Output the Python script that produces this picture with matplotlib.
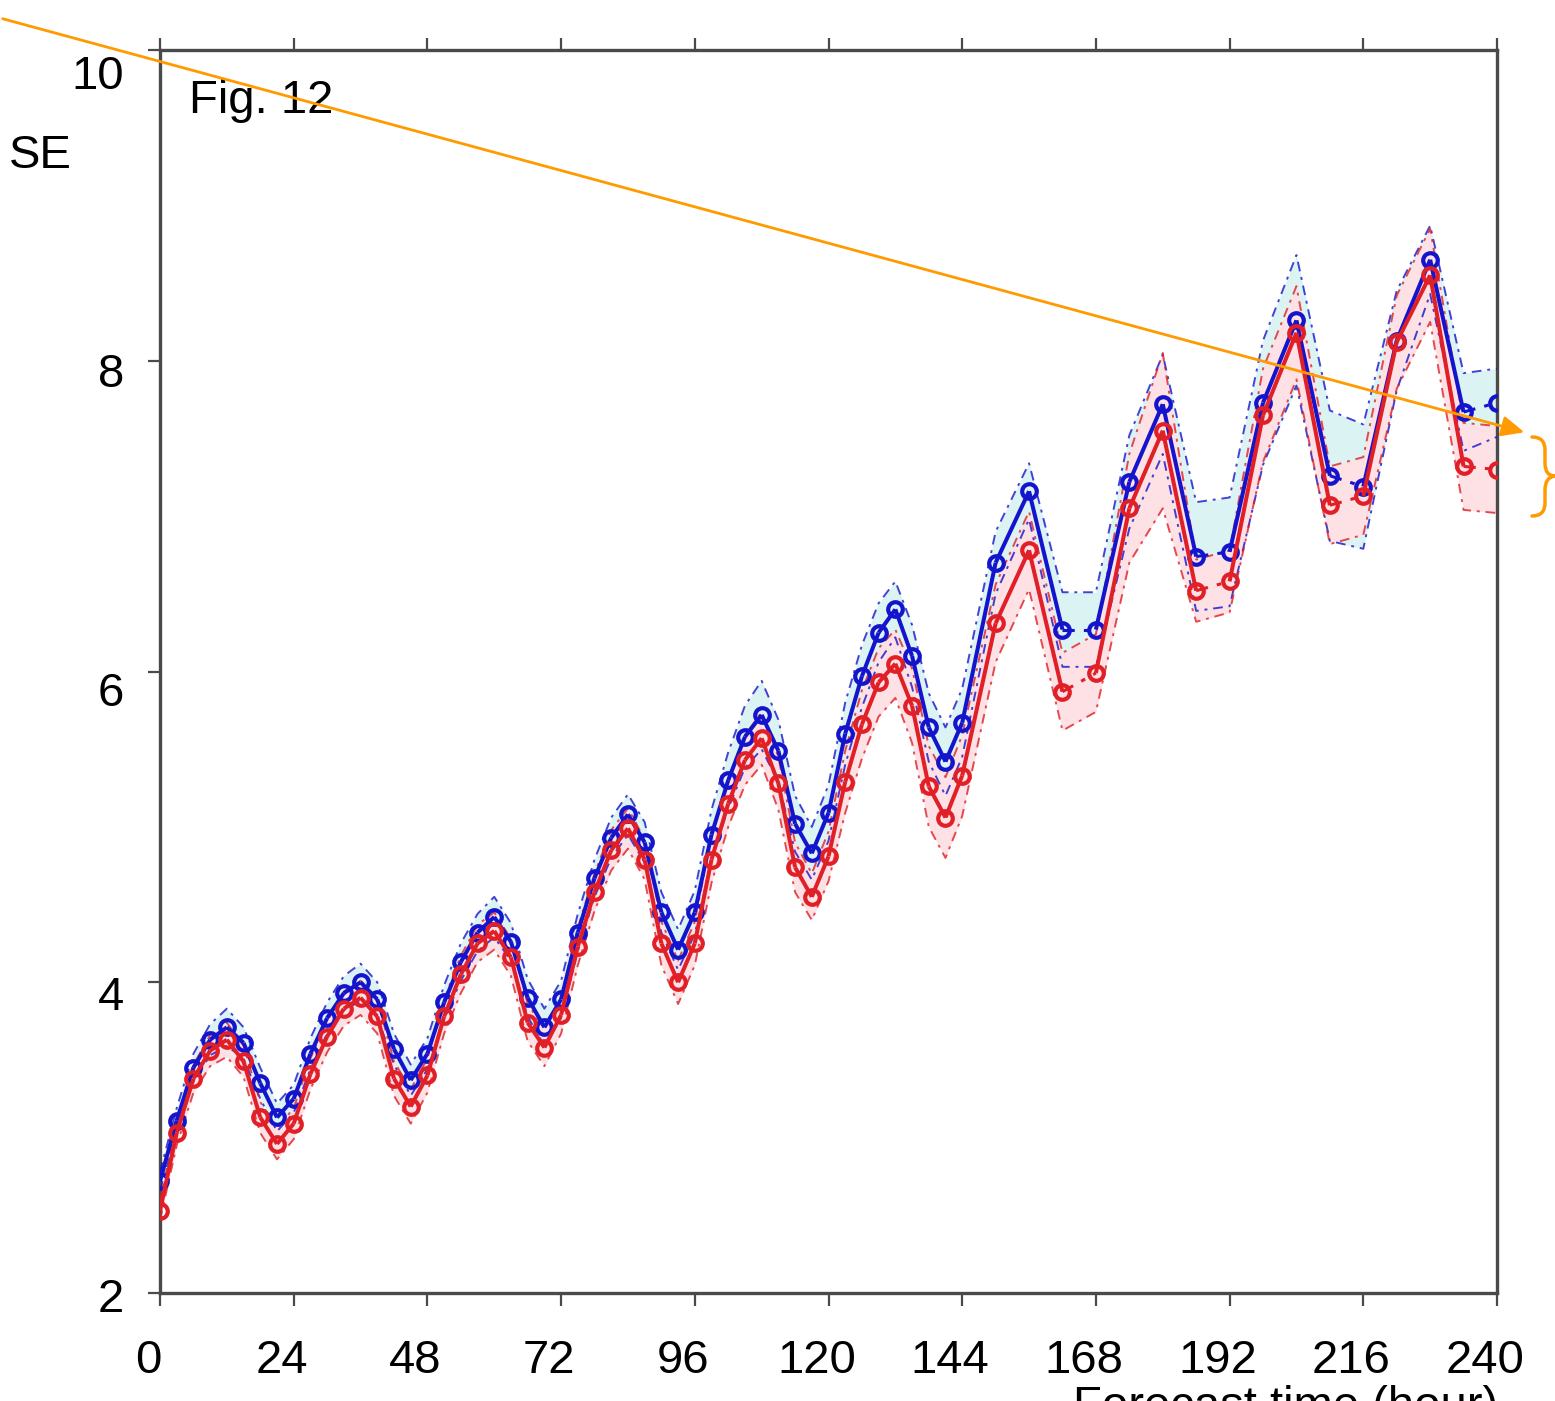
import numpy as np
import matplotlib
matplotlib.use("Agg")
import matplotlib.pyplot as plt
import matplotlib.transforms as mtransforms
from matplotlib.patches import FancyArrowPatch, PathPatch
from matplotlib.path import Path

plt.rcParams['font.family'] = ['Liberation Sans', 'DejaVu Sans']

# forecast hours: 3-hourly up to 144 h, 6-hourly after
hours = np.concatenate([np.arange(0, 145, 3), np.arange(150, 241, 6)])

se_blue = [2.72, 3.11, 3.45, 3.63, 3.71, 3.61, 3.35, 3.13, 3.25, 3.54,
           3.77, 3.93, 4.00, 3.89, 3.57, 3.37, 3.54, 3.87, 4.13, 4.32,
           4.42, 4.26, 3.90, 3.71, 3.89, 4.32, 4.67, 4.93, 5.08, 4.90,
           4.45, 4.21, 4.45, 4.95, 5.30, 5.58, 5.72, 5.49, 5.02, 4.83,
           5.09, 5.60, 5.97, 6.25, 6.40, 6.10, 5.64, 5.42, 5.67,
           6.70, 7.16, 6.27, 6.27, 7.22, 7.72, 6.74, 6.77, 7.73, 8.26,
           7.26, 7.19, 8.13, 8.65, 7.67, 7.73]

se_red = [2.53, 3.03, 3.38, 3.56, 3.63, 3.49, 3.13, 2.96, 3.09, 3.41,
          3.65, 3.83, 3.90, 3.78, 3.38, 3.20, 3.40, 3.78, 4.05, 4.25,
          4.33, 4.16, 3.74, 3.58, 3.79, 4.23, 4.58, 4.85, 4.99, 4.79,
          4.25, 4.00, 4.25, 4.79, 5.15, 5.43, 5.57, 5.28, 4.74, 4.55,
          4.81, 5.29, 5.66, 5.93, 6.05, 5.78, 5.26, 5.06, 5.33,
          6.31, 6.78, 5.87, 5.99, 7.05, 7.55, 6.52, 6.58, 7.65, 8.18,
          7.07, 7.13, 8.12, 8.55, 7.32, 7.30]

# half width of the shaded spread around each curve
spread_blue = [0.06, 0.08, 0.09, 0.10, 0.12, 0.10, 0.10, 0.09, 0.09, 0.10,
               0.10, 0.11, 0.12, 0.11, 0.10, 0.10, 0.10, 0.11, 0.12, 0.12,
               0.13, 0.12, 0.12, 0.12, 0.12, 0.12, 0.12, 0.13, 0.13, 0.13,
               0.13, 0.13, 0.14, 0.16, 0.18, 0.20, 0.22, 0.20, 0.18, 0.17,
               0.18, 0.20, 0.20, 0.19, 0.18, 0.20, 0.22, 0.22, 0.22,
               0.20, 0.18, 0.24, 0.24, 0.30, 0.32, 0.35, 0.35, 0.40, 0.42,
               0.42, 0.40, 0.32, 0.22, 0.25, 0.22]

spread_red = [0.06, 0.08, 0.09, 0.10, 0.11, 0.10, 0.10, 0.10, 0.10, 0.10,
              0.10, 0.11, 0.11, 0.11, 0.11, 0.11, 0.11, 0.11, 0.12, 0.12,
              0.12, 0.12, 0.12, 0.12, 0.12, 0.12, 0.12, 0.13, 0.13, 0.13,
              0.14, 0.14, 0.14, 0.15, 0.15, 0.16, 0.17, 0.17, 0.16, 0.15,
              0.16, 0.20, 0.22, 0.22, 0.22, 0.24, 0.26, 0.26, 0.26,
              0.25, 0.25, 0.25, 0.25, 0.35, 0.50, 0.20, 0.20, 0.30, 0.30,
              0.25, 0.25, 0.30, 0.30, 0.28, 0.28]

xticks = list(range(0, 241, 24))
yticks = [2, 4, 6, 8, 10]
trough_starts = [162, 186, 210, 234]

blue_c = '#1414cc'
red_c = '#e01f26'
orange = '#ff9a00'

W, H = 1555, 1401
fig = plt.figure(figsize=(W / 100, H / 100), dpi=100)
ax = fig.add_axes([160 / W, 1 - 1293 / H, (1497 - 160) / W, (1293 - 50) / H])


def px(x, y):
    return (x / W, 1 - y / H)


se_blue = np.array(se_blue)
se_red = np.array(se_red)
spread_blue = np.array(spread_blue)
spread_red = np.array(spread_red)

ax.fill_between(hours, se_blue - spread_blue, se_blue + spread_blue,
                color='#dcf3f3', lw=0, zorder=1)
ax.fill_between(hours, se_red - spread_red, se_red + spread_red,
                color='#fde1e5', lw=0, zorder=2)

dd = (5, 3, 1.5, 3)
for y, s, c in [(se_blue, spread_blue, blue_c), (se_red, spread_red, red_c)]:
    ax.plot(hours, y + s, color=c, lw=1.4, dashes=dd, alpha=0.8, zorder=3)
    ax.plot(hours, y - s, color=c, lw=1.4, dashes=dd, alpha=0.8, zorder=3)

for y, c, z in [(se_blue, blue_c, 4), (se_red, red_c, 6)]:
    for i in range(len(hours) - 1):
        seg_x = hours[i:i + 2]
        seg_y = y[i:i + 2]
        if hours[i] in trough_starts:
            ax.plot(seg_x, seg_y, color=c, lw=2.2, dashes=(4, 3, 1.5, 3), zorder=z)
        else:
            ax.plot(seg_x, seg_y, color=c, lw=2.9, solid_capstyle='butt', zorder=z)
    ax.plot(hours, y, 'o', mfc='none', mec=c, ms=10.5, mew=3.0, zorder=z + 1)

ax.set_xlim(0, 240)
ax.set_ylim(2, 10)
ax.set_xticks(xticks)
ax.set_xticklabels([str(t) for t in xticks])
ax.set_yticks(yticks)
ax.set_yticklabels([str(t) for t in yticks])

for sp in ax.spines.values():
    sp.set_color('#4a4a4a')
    sp.set_linewidth(2.4)

ax.tick_params(axis='x', which='both', direction='out', length=9, width=1.6,
               color='#4a4a4a', top=True, bottom=True, labelsize=34, pad=24)
ax.tick_params(axis='y', direction='out', length=9, width=1.6,
               color='#4a4a4a', left=True, right=False, labelsize=34, pad=17)

offx = mtransforms.ScaledTranslation(-12 / 100, 0, fig.dpi_scale_trans)
for lab in ax.get_xticklabels():
    lab.set_transform(lab.get_transform() + offx)
# y labels sit a little below their ticks, by a varying amount
ydrop = [2, 11, 18, 9, 22]
for lab, d in zip(ax.get_yticklabels(), ydrop):
    lab.set_transform(lab.get_transform() +
                      mtransforms.ScaledTranslation(0, -d / 100, fig.dpi_scale_trans))

fig.text(*px(189, 113), 'Fig. 12', fontsize=34, va='baseline', ha='left')
fig.text(*px(9, 168), 'SE', fontsize=34, va='baseline', ha='left')
fig.text(*px(1286, 1419), 'Forecast time (hour)', fontsize=34,
         va='baseline', ha='center')

# orange annotation arrow and brace
arrow = FancyArrowPatch(px(0, 18), px(1527, 433), transform=fig.transFigure,
                        arrowstyle='-|>,head_length=0.55,head_width=0.25',
                        mutation_scale=25, color=orange, lw=2.0, zorder=10)
fig.add_artist(arrow)

brace_pts = [(1532, 437), (1545, 437), (1545, 450), (1545, 463),
             (1545, 476), (1555, 476), (1545, 477), (1545, 490),
             (1545, 503), (1545, 516), (1532, 516)]
codes = [Path.MOVETO, Path.CURVE3, Path.CURVE3, Path.LINETO,
         Path.CURVE3, Path.CURVE3, Path.CURVE3, Path.CURVE3,
         Path.LINETO, Path.CURVE3, Path.CURVE3]
brace = PathPatch(Path([px(x, y) for x, y in brace_pts], codes),
                  transform=fig.transFigure, fill=False, ec=orange,
                  lw=2.5, capstyle='round', zorder=10)
fig.add_artist(brace)

fig.savefig('out.png', dpi=100)
